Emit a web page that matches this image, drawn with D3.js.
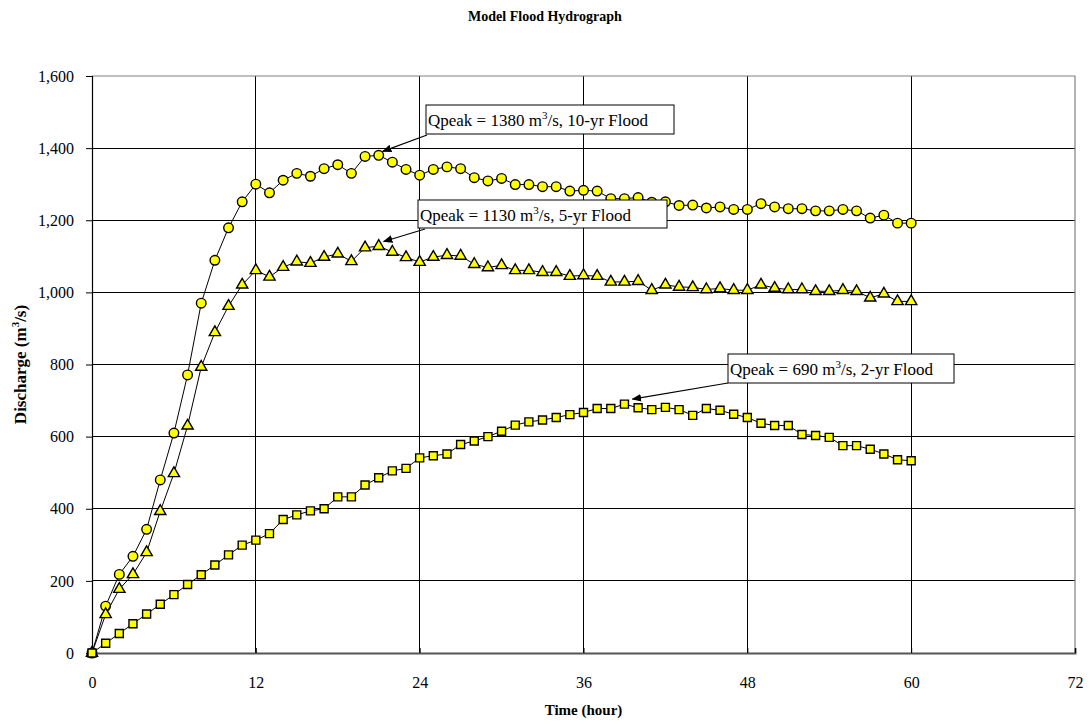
<!DOCTYPE html>
<html>
<head>
<meta charset="utf-8">
<script src="https://cdn.jsdelivr.net/npm/d3@7"></script>
<style>
  body { margin: 0; background: #fff; }
  svg text { font-family: "Liberation Serif", "Times New Roman", serif; }
</style>
</head>
<body>
<div id="chart"></div>
<script>
// hours 0..60
const hours = d3.range(0, 61);

// 10-yr flood (circles)
const q10 = [0, 130, 218, 268, 343, 480, 610, 771, 970, 1089, 1179, 1251, 1300, 1276, 1311, 1330, 1322, 1343, 1354, 1330,
  1377, 1380, 1361, 1341, 1325, 1341, 1348, 1343, 1318, 1309, 1316, 1299, 1299, 1293, 1293, 1281, 1283, 1281, 1260, 1260,
  1263, 1250, 1251, 1241, 1242, 1234, 1237, 1230, 1230, 1246, 1237, 1232, 1232, 1226, 1226, 1230, 1226, 1206, 1214, 1192, 1192];

// 5-yr flood (triangles)
const q5 = [0, 107, 177, 218, 279, 393, 498, 630, 793, 889, 962, 1021, 1061, 1043, 1070, 1085, 1081, 1098, 1107, 1086,
  1124, 1128, 1112, 1097, 1084, 1098, 1103, 1101, 1078, 1069, 1075, 1061, 1061, 1056, 1056, 1045, 1047, 1045, 1029, 1029,
  1031, 1006, 1021, 1015, 1014, 1008, 1011, 1006, 1006, 1021, 1012, 1008, 1008, 1003, 1003, 1006, 1003, 985, 996, 975, 975];

// 2-yr flood (squares)
const q2 = [0, 27, 54, 81, 108, 135, 162, 190, 217, 244, 272, 299, 313, 331, 370, 383, 394, 400, 433, 433,
  466, 486, 505, 512, 541, 547, 552, 578, 588, 600, 615, 632, 641, 646, 653, 661, 667, 678, 678, 690,
  680, 675, 681, 675, 659, 678, 673, 662, 653, 637, 631, 631, 606, 603, 598, 575, 575, 565, 552, 536, 533];

const xTicks = [0, 12, 24, 36, 48, 60, 72];
const yTicks = [0, 200, 400, 600, 800, 1000, 1200, 1400, 1600];

// callouts: peak hour, peak flow, label parts
const peakHours = [21, 21, 39];
const peakFlows = [1380, 1130, 690];
const peakLabels = [["Qpeak = 1380 m", "/s, 10-yr Flood"], ["Qpeak = 1130 m", "/s, 5-yr Flood"], ["Qpeak = 690 m", "/s, 2-yr Flood"]];

const serif = '"Liberation Serif", "Times New Roman", serif';
const width = 1090, height = 724;
const margins = {top: 76, right: 15, bottom: 71, left: 92};

const svg = d3.select("#chart").append("svg")
  .attr("width", width).attr("height", height)
  .attr("font-family", serif);

const xScale = d3.scaleLinear().domain([0, 72]).range([margins.left, width - margins.right]);
const yScale = d3.scaleLinear().domain([0, 1600]).range([height - margins.bottom, margins.top]);

// title
svg.append("text")
  .attr("x", 545).attr("y", 21)
  .attr("text-anchor", "middle")
  .style("font-size", "14px").style("font-weight", "bold")
  .text("Model Flood Hydrograph");

// gridlines
svg.append("g").selectAll("line").data(yTicks.slice(1, -1)).join("line")
  .attr("x1", xScale(0)).attr("x2", xScale(72))
  .attr("y1", d => yScale(d)).attr("y2", d => yScale(d))
  .attr("stroke", "#000").attr("stroke-width", 1).attr("shape-rendering", "crispEdges");
svg.append("g").selectAll("line").data(xTicks.slice(1, -1)).join("line")
  .attr("y1", yScale(0)).attr("y2", yScale(1600))
  .attr("x1", d => xScale(d)).attr("x2", d => xScale(d))
  .attr("stroke", "#000").attr("stroke-width", 1).attr("shape-rendering", "crispEdges");

// frame top / right
svg.append("path")
  .attr("d", `M${xScale(0)},${yScale(1600)}H${xScale(72)}V${yScale(0)}`)
  .attr("fill", "none").attr("stroke", "#808080").attr("stroke-width", 1.2);

// axes
const xAxis = d3.axisBottom(xScale).tickValues(xTicks).tickSizeOuter(0).tickSize(-5).tickPadding(24);
const yAxis = d3.axisLeft(yScale).tickValues(yTicks).tickSizeOuter(0).tickSize(6).tickPadding(12)
  .tickFormat(d3.format(","));

const xGroup = svg.append("g")
  .attr("transform", `translate(0, ${yScale(0)})`)
  .call(xAxis)
  .attr("font-family", serif);
xGroup.select(".domain").attr("stroke", "#555").attr("stroke-width", 2);
xGroup.selectAll("line").attr("stroke", "#000");
xGroup.selectAll("text").style("font-size", "16px").attr("fill", "#000");

const yGroup = svg.append("g")
  .attr("transform", `translate(${margins.left},0)`)
  .call(yAxis)
  .attr("font-family", serif);
yGroup.select(".domain").attr("stroke", "#000").attr("stroke-width", 1.2);
yGroup.selectAll("line").attr("stroke", "#000");
yGroup.selectAll("text").style("font-size", "16px").attr("fill", "#000");

// axis titles
svg.append("text")
  .attr("x", (xScale(0) + xScale(72)) / 2).attr("y", 715)
  .attr("text-anchor", "middle")
  .style("font-size", "15px").style("font-weight", "bold")
  .text("Time (hour)");

const yTitle = svg.append("text")
  .attr("transform", `translate(26, ${yScale(800)}) rotate(-90)`)
  .attr("text-anchor", "middle")
  .style("font-size", "17px").style("font-weight", "bold");
yTitle.append("tspan").text("Discharge  (m");
yTitle.append("tspan").attr("dy", -7).style("font-size", "11px").text("3");
yTitle.append("tspan").attr("dy", 7).text("/s)");

// series
const line = d3.line().x((d, i) => xScale(hours[i])).y(d => yScale(d));
const series = [
  {values: q10, symbol: d3.symbolCircle, size: 72},
  {values: q5, symbol: d3.symbolTriangle, size: 55},
  {values: q2, symbol: d3.symbolSquare, size: 64}
];

series.forEach(s => {
  svg.append("path")
    .datum(s.values)
    .attr("d", line)
    .attr("fill", "none").attr("stroke", "#000").attr("stroke-width", 1);
  svg.append("g").selectAll("path")
    .data(s.values).join("path")
    .attr("transform", (d, i) => `translate(${xScale(hours[i])},${yScale(d)})`)
    .attr("d", d3.symbol().type(s.symbol).size(s.size))
    .attr("fill", "#ffff00").attr("stroke", "#000").attr("stroke-width", 1.4);
});

// callout boxes
svg.append("defs").append("marker")
  .attr("id", "arrow").attr("viewBox", "0 0 10 10")
  .attr("refX", 9).attr("refY", 5)
  .attr("markerWidth", 8).attr("markerHeight", 8)
  .attr("orient", "auto")
  .append("path").attr("d", "M0,1L10,5L0,9z").attr("fill", "#000");

// box left/top in pixels and arrow tip offsets
const boxes = [
  {x: 426, y: 105, w: 248, h: 29, ax: 427, ay: 135, dx: 4, dy: -4},
  {x: 418, y: 200, w: 249, h: 28, ax: 425, ay: 229, dx: 5, dy: -4},
  {x: 728, y: 354, w: 226, h: 29, ax: 728, ay: 383, dx: 8, dy: -5}
];

boxes.forEach((b, i) => {
  const g = svg.append("g");
  g.append("line")
    .attr("x1", b.ax).attr("y1", b.ay)
    .attr("x2", xScale(peakHours[i]) + b.dx).attr("y2", yScale(peakFlows[i]) + b.dy)
    .attr("stroke", "#000").attr("stroke-width", 1.2)
    .attr("marker-end", "url(#arrow)");
  g.append("rect")
    .attr("x", b.x).attr("y", b.y).attr("width", b.w).attr("height", b.h)
    .attr("fill", "#fff").attr("stroke", "#000").attr("stroke-width", 1);
  const t = g.append("text")
    .attr("x", b.x + 2).attr("y", b.y + 21)
    .style("font-size", "17px");
  t.append("tspan").text(peakLabels[i][0]);
  t.append("tspan").attr("dy", -7).style("font-size", "11px").text("3");
  t.append("tspan").attr("dy", 7).text(peakLabels[i][1]);
});
</script>
</body>
</html>
